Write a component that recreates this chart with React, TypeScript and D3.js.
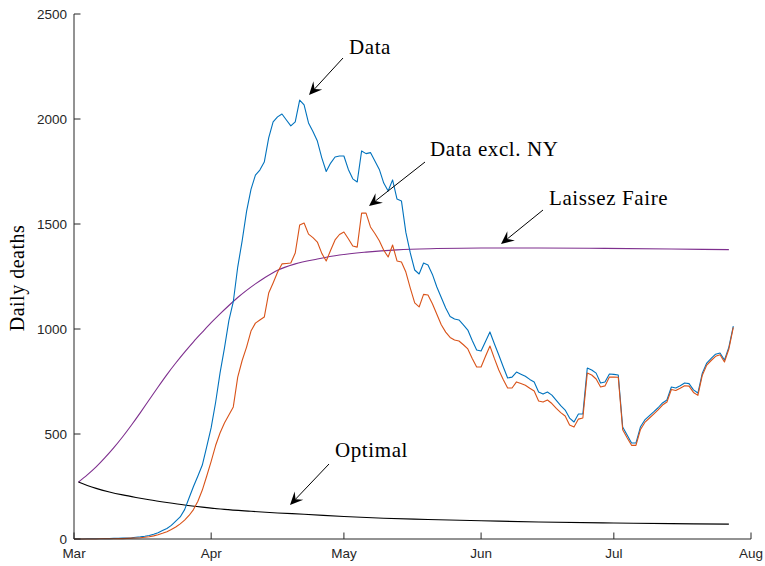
import React from "react";
import * as d3 from "d3";

const xTickLabels = ["Mar", "Apr", "May", "Jun", "Jul", "Aug"];
const yTicks = [0, 500, 1000, 1500, 2000, 2500];

// Daily deaths (7-day avg), day 0 = Mar 1 2020
const dataAll = [
  0, 0, 0, 1, 1, 1, 1, 2, 2, 3, 3, 4, 5, 6, 8, 10, 13, 17, 23, 30,
  40, 50, 65, 85, 105, 140, 195, 250, 300, 352, 440, 530, 650, 790, 909, 1040, 1130, 1295, 1420, 1560,
  1665, 1733, 1757, 1795, 1910, 1986, 2010, 2024, 1995, 1967, 1986, 2090, 2067, 1981, 1940, 1895, 1815, 1750, 1790, 1819,
  1824, 1824, 1760, 1715, 1700, 1848, 1835, 1840, 1800, 1760, 1695, 1657, 1710, 1619, 1610, 1460, 1362, 1281, 1262, 1314,
  1305, 1260, 1200, 1150, 1100, 1060, 1048, 1043, 1020, 995, 945, 900, 895, 940, 986, 930, 876, 820, 767, 771,
  795, 785, 775, 760, 748, 700, 690, 700, 685, 660, 635, 614, 576, 557, 595, 595, 814, 805, 790, 743,
  748, 786, 784, 781, 533, 495, 457, 457, 533, 567, 586, 605, 625, 648, 662, 724, 719, 730, 743, 740,
  710, 695, 790, 838, 860, 880, 886, 852, 914, 1014,
];

const dataExclNY = [
  0, 0, 0, 0, 0, 0, 1, 1, 1, 1, 2, 2, 3, 4, 5, 6, 8, 11, 15, 20,
  27, 35, 45, 57, 72, 90, 112, 140, 180, 233, 300, 370, 445, 505, 552, 590, 629, 771, 850, 914,
  990, 1028, 1043, 1057, 1171, 1219, 1270, 1310, 1312, 1314, 1362, 1495, 1505, 1452, 1435, 1414, 1360, 1324, 1375, 1424,
  1450, 1462, 1430, 1395, 1390, 1552, 1552, 1486, 1455, 1420, 1375, 1343, 1400, 1324, 1319, 1271, 1195, 1124, 1105, 1165,
  1162, 1120, 1070, 1020, 985, 960, 948, 943, 925, 905, 860, 819, 819, 870, 919, 860, 805, 760, 719, 719,
  748, 740, 732, 718, 705, 657, 652, 662, 645, 622, 602, 586, 543, 533, 571, 576, 790, 781, 762, 724,
  729, 771, 771, 770, 520, 482, 446, 446, 520, 555, 575, 595, 615, 638, 652, 712, 707, 718, 730, 728,
  698, 684, 780, 828, 850, 870, 877, 843, 905, 1008,
];

// model curves: sampled days and values
const laissezDays = [1, 3, 5, 7, 9, 11, 13, 15, 17, 19, 21, 23, 25, 27, 29, 31, 33, 35, 37, 39, 41, 43, 46, 50, 55, 60, 66, 73, 82, 92, 105, 120, 135, 148];
const laissezVals = [271, 305, 343, 387, 435, 487, 543, 602, 663, 724, 783, 838, 890, 939, 985, 1030, 1072, 1112, 1150, 1184, 1215, 1243, 1280, 1310, 1333, 1352, 1366, 1377, 1383, 1386, 1386, 1384, 1381, 1378];

const optimalDays = [1, 3, 5, 8, 11, 14, 17, 21, 25, 29, 34, 40, 46, 52, 61, 70, 80, 92, 105, 122, 135, 148];
const optimalVals = [271, 255, 241, 224, 210, 198, 187, 174, 162, 152, 141, 132, 124, 118, 107, 99, 93, 87, 81, 76, 73, 71];

const W = 765;
const H = 566;
const left = 74, right = 751, top = 14, bottom = 539;

const day = (d: number) => new Date(Date.UTC(2020, 2, 1 + d));

function Arrow({ x1, y1, x2, y2 }: { x1: number; y1: number; x2: number; y2: number }) {
  const ang = Math.atan2(y2 - y1, x2 - x1);
  const L = 13, hw = 6, notch = 0.62 * L;
  const cos = Math.cos(ang), sin = Math.sin(ang);
  const pt = (a: number, b: number) => [x2 + a * cos - b * sin, y2 + a * sin + b * cos];
  const p = [pt(0, 0), pt(-L, -hw), pt(-notch, 0), pt(-L, hw)];
  const n = pt(-notch, 0);
  return (
    <g>
      <line x1={x1} y1={y1} x2={n[0]} y2={n[1]} stroke="#000" strokeWidth={1} />
      <path d={"M" + p.map((q) => q.join(",")).join("L") + "Z"} fill="#000" />
    </g>
  );
}

export default function App() {
  const x = d3.scaleUtc().domain([day(0), new Date(Date.UTC(2020, 7, 1))]).range([left, right]);
  const y = d3.scaleLinear().domain([0, 2500]).range([bottom, top]);
  const xTicks = [0, 1, 2, 3, 4, 5].map((m) => new Date(Date.UTC(2020, 2 + m, 1)));

  const lineDaily = d3
    .line<number>()
    .x((_, i) => x(day(i)))
    .y((v) => y(v));
  const lineModel = d3
    .line<[number, number]>()
    .x((p) => x(day(p[0])))
    .y((p) => y(p[1]))
    .curve(d3.curveMonotoneX);

  const laissez = laissezDays.map((d, i) => [d, laissezVals[i]] as [number, number]);
  const optimal = optimalDays.map((d, i) => [d, optimalVals[i]] as [number, number]);

  const axisColor = "#262626";
  const tickFont = "'Liberation Sans', Arial, Helvetica, sans-serif";
  const serif = "'Liberation Serif', 'Times New Roman', serif";
  const annot = { fontFamily: serif, fontSize: 21, letterSpacing: 0.6 } as const;

  return (
    <svg width={W} height={H} style={{ position: "absolute", left: 0, top: 0, background: "#fff" }}>
      {/* curves */}
      <path d={lineModel(laissez) || ""} fill="none" stroke="#7E2F8E" strokeWidth={1.1} />
      <path d={lineModel(optimal) || ""} fill="none" stroke="#000" strokeWidth={1.1} />
      <path d={lineDaily(dataAll) || ""} fill="none" stroke="#0072BD" strokeWidth={1.1} strokeLinejoin="round" />
      <path d={lineDaily(dataExclNY) || ""} fill="none" stroke="#D95319" strokeWidth={1.1} strokeLinejoin="round" />

      {/* axes */}
      <line x1={left} y1={top} x2={left} y2={bottom} stroke={axisColor} strokeWidth={1} />
      <line x1={left} y1={bottom} x2={right} y2={bottom} stroke={axisColor} strokeWidth={1} />
      {yTicks.map((t) => (
        <g key={t}>
          <line x1={left} x2={left + 6.5} y1={y(t)} y2={y(t)} stroke={axisColor} strokeWidth={1} />
          <text x={left - 7} y={y(t)} dy="0.36em" textAnchor="end" fontFamily={tickFont} fontSize={13.5} fill={axisColor}>
            {t}
          </text>
        </g>
      ))}
      {xTicks.map((t, i) => (
        <g key={i}>
          <line x1={x(t)} x2={x(t)} y1={bottom} y2={bottom - 6.5} stroke={axisColor} strokeWidth={1} />
          <text x={x(t)} y={558} textAnchor="middle" fontFamily={tickFont} fontSize={13.5} fill={axisColor}>
            {xTickLabels[i]}
          </text>
        </g>
      ))}

      {/* y label */}
      <text transform="translate(24,278) rotate(-90)" textAnchor="middle" fontFamily={serif} fontSize={20} letterSpacing={0.5} fill="#000">
        Daily deaths
      </text>

      {/* annotations */}
      <Arrow x1={343} y1={58} x2={309} y2={95} />
      <text x={349} y={54} {...annot}>Data</text>

      <Arrow x1={425} y1={162} x2={369} y2={206} />
      <text x={430} y={156} {...annot}>Data excl. NY</text>

      <Arrow x1={543} y1={210} x2={501} y2={244} />
      <text x={549} y={205} {...annot}>Laissez Faire</text>

      <Arrow x1={329} y1={464} x2={290} y2={505} />
      <text x={335} y={457} {...annot}>Optimal</text>
    </svg>
  );
}
